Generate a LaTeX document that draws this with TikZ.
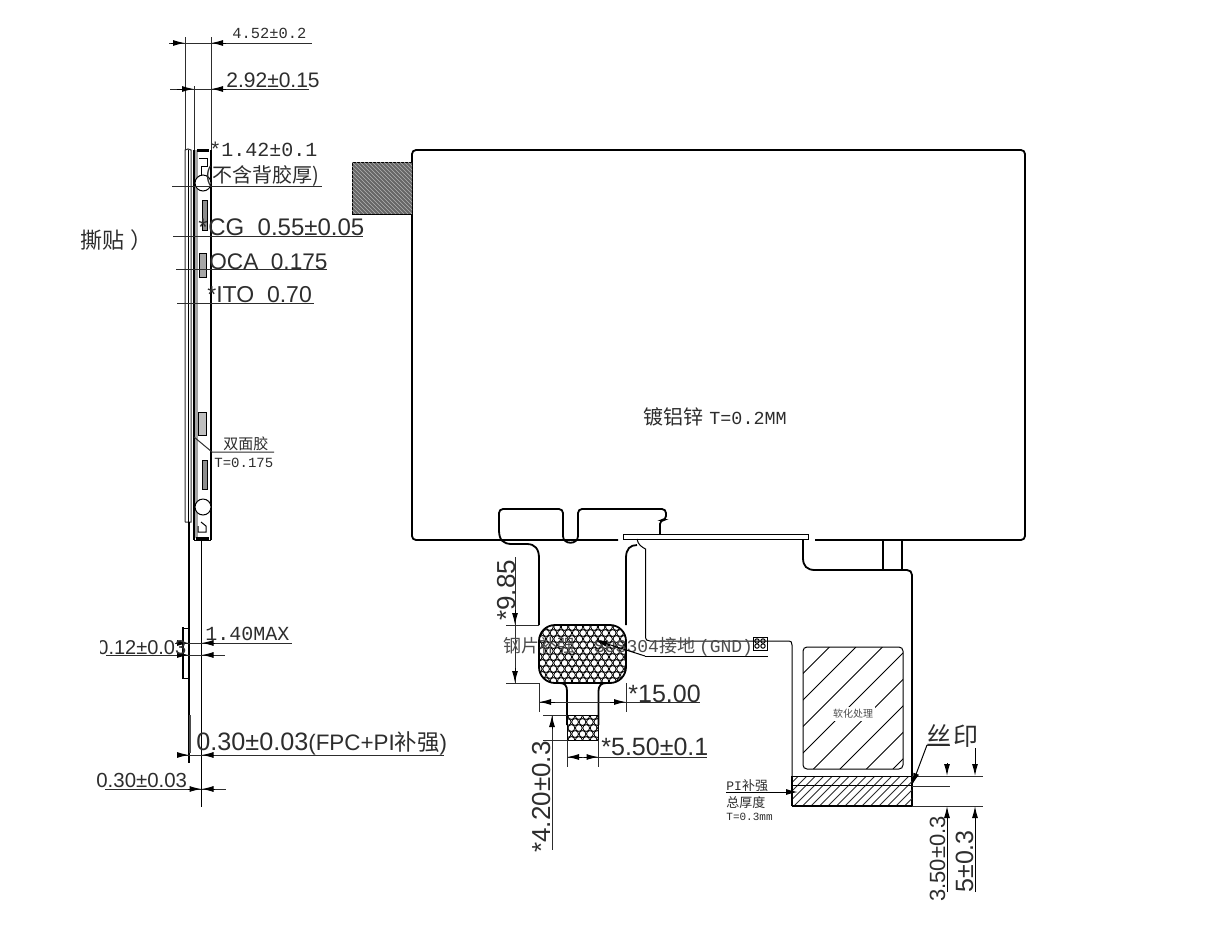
\documentclass[tikz,border=0pt]{standalone}
\usepackage{fontspec}
\setmainfont{Liberation Sans}
\newfontfamily\cjk{Noto Sans CJK SC}
\newfontfamily\slab{Liberation Mono}
\usetikzlibrary{arrows.meta, positioning, calc}
\definecolor{inkgray}{RGB}{45, 45, 45}
\newcommand{\fs}[1]{\fontsize{#1}{#1}\selectfont}

\begin{document}
\begin{tikzpicture}[
    x=0.5pt, y=-0.5pt,
    part/.style={draw=black, line width=0.9pt},
    thinpart/.style={draw=black, line width=0.5pt},
    dimline/.style={draw=inkgray, line width=0.5pt},
    dimtip/.style={draw=black, line width=0.5pt, -{Latex[length=6pt, width=3pt]}},
    label/.style={inner sep=0pt, anchor=base west, text=inkgray, font=\fs{12.5}},
    tag/.style={label, font=\fs{10}\slab},
    updim/.style={label, rotate=90, anchor=base west}
]
    \useasboundingbox (0,0) rectangle (1228,939);

    % Side view
    \draw[thinpart, draw=inkgray] (185,522) -- (185,150) -- (188,149) -- (191,150) -- (191,522) -- (185,522);
    \draw[part] (188.5,150) -- (188.5,522);
    \fill[black!35] (195,150) rectangle (198,538);
    \draw[part, line width=1.1pt] (194,150) -- (194,540);
    \draw[part] (211,150) -- (211,540);
    \draw[part, line width=1.6pt, rounded corners=1pt] (197,150.5) -- (209,150.5);
    \draw[part, line width=1.8pt] (196,538.5) -- (209,538.5);
    \draw[thinpart] (199,158) -- (207,158) -- (207,166) -- (201,166) -- (201,176);
    \draw[thinpart] (198,526) -- (198,532) -- (206,532) -- (206,526) -- (201,522);
    \draw[thinpart] (194,540) -- (211,540);
    \node[circle, draw=black, line width=0.5pt, fill=white, minimum size=8pt, inner sep=0pt] (holetop) at (203,183) {};
    \node[circle, draw=black, line width=0.5pt, fill=white, minimum size=8pt, inner sep=0pt] (holebot) at (203,507) {};
    \draw[thinpart, fill=black!45] (202,200) rectangle (207,230);
    \draw[thinpart, fill=black!35] (199,253) rectangle (206,277);
    \draw[thinpart, fill=black!25] (198,412) rectangle (206,435);
    \draw[thinpart, fill=black!45] (202,460) rectangle (207,489);
    % Flex tail of side view
    \draw[part, line width=0.7pt] (189,522) -- (189,763);
    \draw[part, line width=0.8pt] (201.5,540) -- (201.5,807);
    \draw[part, line width=1.2pt] (183,627) -- (183,679);
    \draw[thinpart] (183,628) -- (189,628) (183,678) -- (189,678);
    \draw[part, line width=1.2pt, draw=black!70] (190,715) -- (190,753);

    % Side view dimensions
    \draw[dimline] (185,37) -- (185,150) (211,37) -- (211,150) (194,86) -- (194,150);
    \draw[dimline] (169,43) -- (312,43) (170,89) -- (309,89);
    \draw[dimtip] (171,43) -- (185,43);
    \draw[dimtip] (226,43) -- (211,43);
    \draw[dimtip] (177,89) -- (194,89);
    \draw[dimtip] (226,89) -- (211,89);
    \foreach \yy/\xa/\xb in {186/172/322, 236/173/363, 269/176/327, 303/177/314}
        \draw[dimline] (\xa,\yy) -- (\xb,\yy);
    \draw[dimline] (175,643) -- (292,643) (106,655) -- (225,655);
    \draw[dimtip] (176,643) -- (189,643);
    \draw[dimtip] (215,643) -- (201.5,643);
    \draw[dimtip] (178,655) -- (189,655);
    \draw[dimtip] (214,655) -- (201.5,655);
    \draw[dimline] (177,755) -- (444,755) (105,789) -- (226,789);
    \draw[dimtip] (178,755) -- (189,755);
    \draw[dimtip] (214,755) -- (201.5,755);
    \draw[dimtip] (188,789) -- (201.5,789);
    \draw[dimtip] (215,789) -- (201.5,789);
    \draw[part] (201.5,777) -- (201.5,807);

    \node[tag, font=\fs{7.7}\slab] (outer) at (232,38) {4.52±0.2};
    \node[label, font=\fs{10.5}] (overall) at (226,87) {2.92±0.15};
    \node[tag] (lcm) at (209,156) {*1.42±0.1};
    \node[label, font=\fs{10}\cjk] (lcmnote) at (205,182) {(不含背胶厚)};
    \node[label, font=\fs{12}] (cgstar) at (198,235) {*\hspace{1pt}};
    \node[label, font=\fs{12}] (cg) at (208,235) {CG\ \ 0.55±0.05};
    \node[label, font=\fs{11.3}] (oca) at (209,269) {OCA\ \ 0.175};
    \node[label, font=\fs{11.5}] (ito) at (207,302) {*ITO\ \ 0.70};
    \node[label, font=\fs{11}\cjk] (peel) at (80,248) {撕贴\hspace{3pt}）};
    \node[label, font=\fs{7.5}\cjk] (tape) at (223,449) {双面胶};
    \node[tag, font=\fs{7}\slab] (tapet) at (214,467) {T=0.175};
    \draw[thinpart, draw=inkgray] (212,452) -- (274,452) (212,452) -- (194,437);
    \node[tag] (fpcmax) at (205,640) {1.40MAX};
    \node[label, font=\fs{10}] (stiff) at (97,654) {0.12±0.03};
    \fill[white] (90,630) rectangle (100,662);
    \node[label, font=\fs{12.6}] (fpcpi) at (196,750) {0.30±0.03{\fs{11.2}(FPC+PI{\cjk 补强})}};
    \node[label, font=\fs{10.2}] (fpc) at (96,787) {0.30±0.03};

    % Main plate
    \draw[part, rounded corners=2pt] (618,540) -- (412,540) -- (412,150) -- (1025,150) -- (1025,540) -- (815,540);
    \draw[thinpart, fill=black!60] (352,162) rectangle (412,214);
    \begin{scope}
        \clip (352,162) rectangle (412,214);
        \foreach \d in {300,304,...,420}
            \draw[white!70!black, line width=0.3pt] (\d,162) -- (\d+52,214);
    \end{scope}
    \node[inner sep=0pt, anchor=base west, text=inkgray, font=\fs{10}\cjk] (plate) at (643,424) {镀铝锌\hspace{3pt}{\fs{9.2}\slab T=0.2MM}};

    % Tabs and strip
    \draw[part, rounded corners=2pt] (499,530) -- (499,509) -- (563,509) -- (563,536);
    \draw[part] (563,536) .. controls (563,545) and (578,545) .. (578,536);
    \draw[part, rounded corners=2pt] (578,536) -- (578,509) -- (666,509) -- (666,520) -- (660,520) -- (660,534);
    \draw[thinpart] (623,534) rectangle (808,539.5);
    % Left and right flex
    \draw[part] (499,530) .. controls (499,540) and (503,544) .. (512,544) -- (527,544) .. controls (535,544) and (539,549) .. (539,558) -- (539,625);
    \draw[part] (626,625) -- (626,558) .. controls (626,549) and (630,545) .. (637,545);
    \draw[thinpart] (637,539) .. controls (638,545) and (642,547) .. (645.5,549) -- (645.5,636) .. controls (645.5,640) and (647,641) .. (650,641) -- (789,641) .. controls (791,641) and (792,642) .. (792,645) -- (792,806);
    \draw[part] (803,540) -- (803,558) .. controls (803,566) and (807,570) .. (815,570) -- (907,570) .. controls (910,570) and (912,572) .. (912,575) -- (912,806);
    \draw[part] (883,540) -- (883,570) (902,540) -- (902,570);

    % Steel plate dots
    \begin{scope}
        \clip[rounded corners=8pt] (539,625) rectangle (626,683);
        \foreach \row in {0,...,10}
            \foreach \col in {0,...,12}
                \draw[black, line width=0.42pt] ({535+7.4*\col+3.7*mod(\row,2)},{627+6*\row}) circle (3.4);
    \end{scope}
    \draw[part, rounded corners=8pt] (539,625) rectangle (626,683);
    \draw[part] (567,725) -- (567,691) .. controls (567,686) and (565,683) .. (560,683);
    \draw[part] (598.5,725) -- (598.5,691) .. controls (598.5,686) and (601,683) .. (606,683);
    \begin{scope}
        \clip (567,715) rectangle (598.5,740);
        \foreach \row in {0,...,4}
            \foreach \col in {0,...,5}
                \draw[black, line width=0.42pt] ({564+7.4*\col+3.7*mod(\row,2)},{716+6*\row}) circle (3.4);
    \end{scope}
    \draw[thinpart] (567,715) rectangle (598.5,740);

    % Dimensions under the plate
    \draw[dimline] (506,625) -- (539,625) (506,683) -- (539,683) (515,557) -- (515,684);
    \draw[dimtip] (515,610) -- (515,625);
    \draw[dimtip] (515,668) -- (515,683);
    \draw[dimline] (539,683) -- (539,712) (626,683) -- (626,712) (539,702) -- (700,702);
    \draw[dimtip] (555,702) -- (539,702);
    \draw[dimtip] (610,702) -- (626,702);
    \node[label, font=\fs{12.5}] (platew) at (628,702) {*15.00};
    \draw[dimline] (543,715) -- (567,715) (543,740) -- (567,740) (552,715) -- (552,850);
    \draw[dimtip] (552,729) -- (552,715);
    \draw[dimline] (567,740) -- (567,767) (598.5,740) -- (598.5,767) (567,757) -- (707,757);
    \draw[dimtip] (582,757) -- (567,757);
    \draw[dimtip] (584,757) -- (598.5,757);
    \node[label, font=\fs{12.5}] (tailw) at (601,755) {*5.50±0.1};
    \node[updim, font=\fs{13}] (platel) at (515,621) {*9.85};
    \node[updim, font=\fs{13}] (taill) at (550,853) {*4.20±0.3};

    % Ground label
    \node[label, font=\fs{9}\cjk, text=black!70] (gnd) at (503,652) {钢片补强\ {\slab\ \hspace{2pt}SUS304}接地\hspace{2pt}{\slab (GND)}};
    \draw[thinpart] (645,656) -- (768,656);
    \draw[thinpart, -{Latex[length=6pt, width=3pt]}] (645,656) -- (595,640);
    \draw[thinpart] (753,637) rectangle (767,650);
    \foreach \gx/\gy in {757/641, 763/641, 757/646, 763/646}
        \draw[thinpart] (\gx,\gy) circle (2.2);

    % Soft zone
    \begin{scope}
        \clip[rounded corners=2pt] (803,647) rectangle (903,769);
        \foreach \d in {681,707.5,...,900}
            \draw[thinpart] (\d,769) -- (\d+122,647);
    \end{scope}
    \draw[thinpart, rounded corners=2pt] (803,647) rectangle (903,769);
    \node[inner sep=1pt, fill=white, font=\fs{5}\cjk, text=black!70] (soft) at (853,714) {软化处理};

    % Bottom stiffener
    \begin{scope}
        \clip (792,776) rectangle (912,806);
        \foreach \d in {760,768.5,...,915}
            \draw[dimline] (\d,806) -- (\d+30,776);
    \end{scope}
    \draw[thinpart] (792,776) -- (912,776);
    \draw[part] (792,785.5) -- (912,785.5) (792,806) -- (912,806) (792,776) -- (792,806);
    \draw[dimline] (912,776) -- (983,776) (912,786) -- (950,786) (912,806) -- (983,806);
    \draw[dimtip] (947,763) -- (947,776);
    \draw[dimtip] (947,892) -- (947,806);
    \draw[dimtip] (975,748) -- (975,776);
    \draw[dimtip] (975,892) -- (975,806);
    \node[updim, font=\fs{11}] (stripa) at (945,902) {3.50±0.3};
    \node[updim, font=\fs{12.5}] (stripb) at (973,893) {5±0.3};
    \node[label, font=\fs{12.5}\cjk] (silk) at (926,745) {丝\hspace{1pt}印};
    \draw[dimline] (950,745) -- (927,745);
    \draw[dimtip] (927,745) -- (912,785);
    \node[label, font=\fs{6.5}\cjk] (pia) at (726,790) {{\slab PI}补强};
    \draw[dimtip] (726,792) -- (798,792);
    \node[label, font=\fs{6.5}\cjk] (pib) at (726,807) {总厚度};
    \node[label, font=\fs{5.5}\slab] (pic) at (726,820) {T=0.3mm};
\end{tikzpicture}
\end{document}
